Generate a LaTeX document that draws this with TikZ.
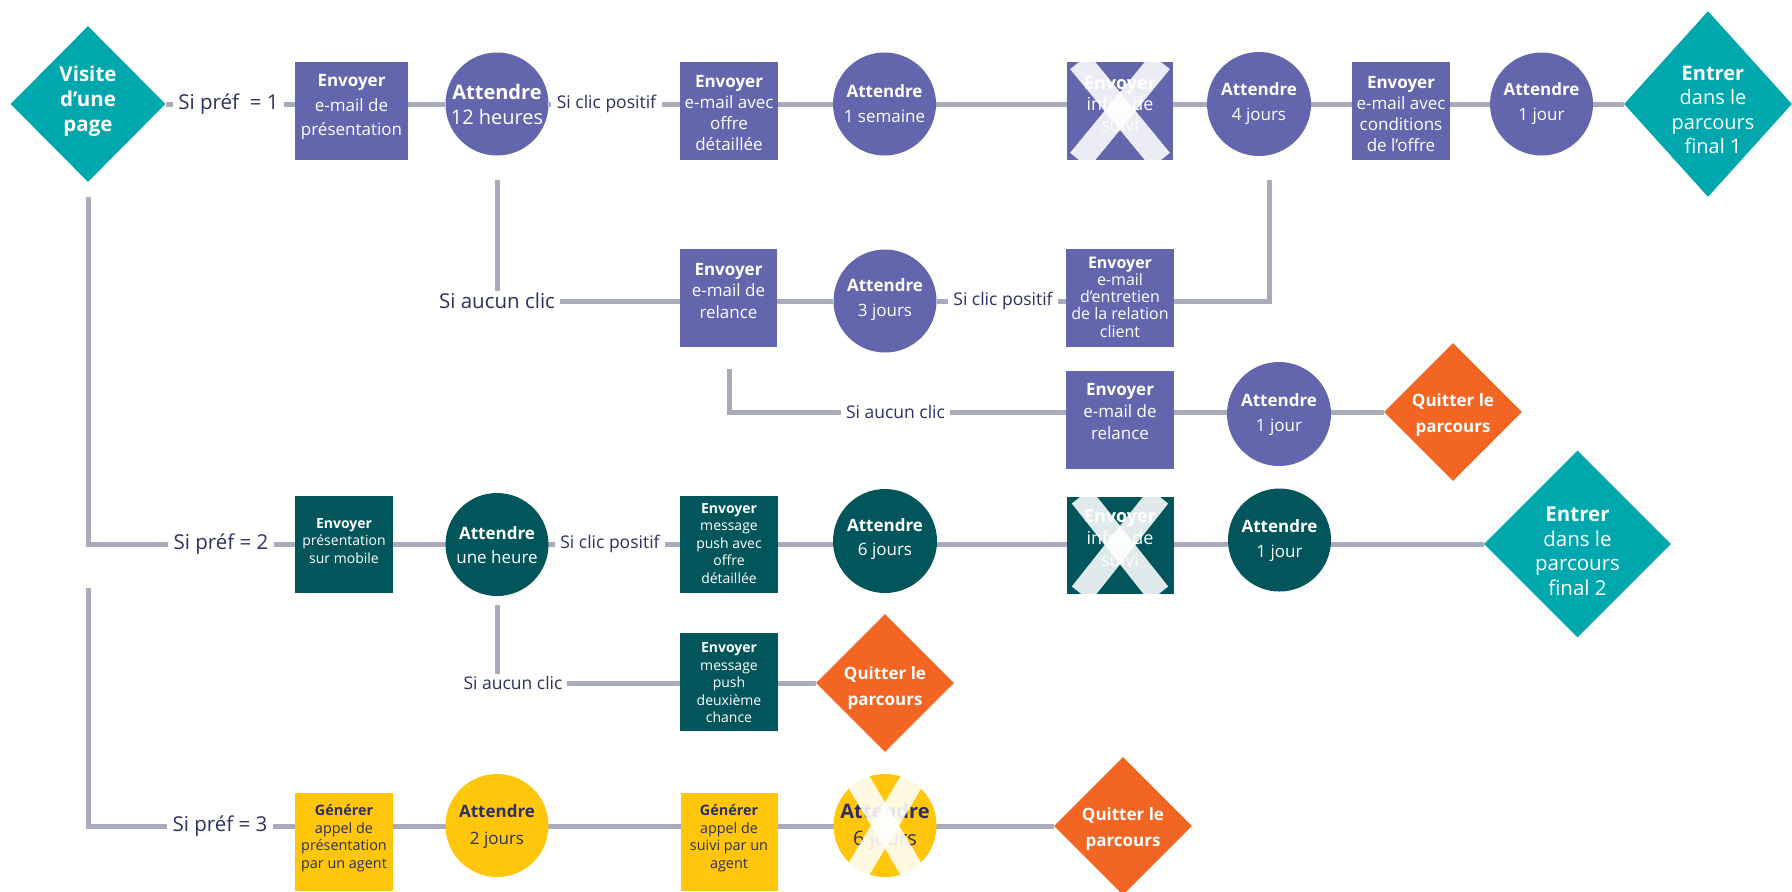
\documentclass[tikz,border=0pt]{standalone}
\usepackage{fontspec}
\setmainfont{Open Sans}
\usetikzlibrary{shapes.geometric,calc}
\definecolor{purp}{RGB}{99,102,173}
\definecolor{dteal}{RGB}{2,85,90}
\definecolor{tealb}{RGB}{0,168,174}
\definecolor{orng}{RGB}{242,101,34}
\definecolor{yell}{RGB}{255,198,11}
\definecolor{lgray}{RGB}{169,171,186}
\definecolor{navy}{RGB}{45,48,96}
\pgfdeclarelayer{background}
\pgfsetlayers{background,main}
\newcommand\fsz[2]{\fontsize{#1}{#2}\selectfont}
% #1 node, #2 inset fraction of the arms
\newcommand\mycross[2]{%
  \begin{scope}
    \clip (#1.west |- #1.north) rectangle (#1.east |- #1.south);
    \draw[xstroke] ($(#1.west |- #1.north)!#2!(#1.east |- #1.north)$) -- ($(#1.east |- #1.south)!#2!(#1.west |- #1.south)$);
    \draw[xstroke] ($(#1.east |- #1.north)!#2!(#1.west |- #1.north)$) -- ($(#1.west |- #1.south)!#2!(#1.east |- #1.south)$);
  \end{scope}}
\begin{document}
\begin{tikzpicture}[x=0.5pt,y=-0.5pt,
  box/.style={rectangle,inner sep=0pt,minimum width=49pt,minimum height=49pt},
  circ/.style={circle,inner sep=0pt,minimum size=51.5pt},
  dia/.style={diamond,inner sep=0pt},
  txt/.style={align=center,inner sep=0pt,text=white},
  ntxt/.style={align=center,inner sep=0pt,text=navy},
  lbl/.style={fill=white,inner xsep=2.5pt,inner ysep=1pt,text=navy},
  biglbl/.style={lbl,font=\fsz{10.25}{12}},
  smllbl/.style={lbl,font=\fsz{8.75}{10}},
  conn/.style={draw=lgray,line width=2.5pt,line join=miter},
  xstroke/.style={draw=white,opacity=0.88,line width=12pt}]
\useasboundingbox (0,0) rectangle (1792,891);
\begin{pgfonlayer}{background}
\fill[white] (0,0) rectangle (1792,891);
\end{pgfonlayer}

% ---------- shapes ----------
\node[dia,fill=tealb,minimum width=77.5pt,minimum height=78pt] (v) at (88,104) {};
\node[box,fill=purp,minimum width=56.5pt] (b1) at (351.5,111) {};
\node[circ,fill=purp] (c1) at (497,104) {};
\node[box,fill=purp] (b2) at (729,111) {};
\node[circ,fill=purp] (c2) at (884.5,104) {};
\node[box,fill=purp,minimum width=53pt] (x1) at (1120,111) {};
\node[circ,fill=purp,minimum size=52pt] (c3) at (1259,104) {};
\node[box,fill=purp] (b3) at (1401,111) {};
\node[circ,fill=purp] (c4) at (1541.5,104) {};
\node[dia,fill=tealb,minimum width=84pt,minimum height=93pt] (e1) at (1708,104) {};

\node[box,fill=purp,minimum width=48.5pt] (b4) at (728.5,298) {};
\node[circ,fill=purp] (c5) at (885,301) {};
\node[box,fill=purp,minimum width=54pt] (b5) at (1120,298) {};
\node[box,fill=purp,minimum width=54pt] (b6) at (1120,420) {};
\node[circ,fill=purp,minimum size=52pt] (c6) at (1279,414) {};
\node[dia,fill=orng,minimum width=69pt,minimum height=69pt] (q1) at (1453,412) {};

\node[box,fill=dteal,minimum height=48.5pt] (b7) at (344,544.5) {};
\node[circ,fill=dteal] (c7) at (497,544.5) {};
\node[box,fill=dteal,minimum height=48.5pt] (b8) at (729,544.5) {};
\node[circ,fill=dteal,minimum size=52pt] (c8) at (885,541) {};
\node[box,fill=dteal,minimum width=53.5pt,minimum height=48.5pt] (x2) at (1120,545) {};
\node[circ,fill=dteal] (c9) at (1279.5,540) {};
\node[dia,fill=tealb,minimum width=93.5pt,minimum height=93.5pt] (e2) at (1577.5,544) {};

\node[box,fill=dteal] (b9) at (729,682) {};
\node[dia,fill=orng,minimum width=69pt,minimum height=69pt] (q2) at (885,683) {};

\node[box,fill=yell] (b10) at (344,842) {};
\node[circ,fill=yell] (c10) at (497,825.5) {};
\node[box,fill=yell,minimum width=48.5pt] (b11) at (729,842) {};
\node[circ,fill=yell] (x3) at (885,825.5) {};
\node[dia,fill=orng,minimum width=69pt,minimum height=69pt] (q3) at (1123,826) {};

% ---------- texts ----------
\node[txt,font=\fsz{10.25}{12.5}\bfseries] (vt) at (88,101) {Visite\\d’une\\page};
\node[txt,font=\fsz{8.5}{12.25}] (b1t) at (351.5,107) {\textbf{Envoyer}\\e-mail de\\présentation};
\node[txt,font=\fsz{10}{12.5}] (c1t) at (497,104) {\textbf{Attendre}\\12 heures};
\node[txt,font=\fsz{8.5}{10.5}] (b2t) at (729,113) {\textbf{Envoyer}\\e-mail avec\\offre\\détaillée};
\node[txt,font=\fsz{8.5}{12.5}] (c2t) at (884.5,104) {\textbf{Attendre}\\1 semaine};
\node[txt,font=\fsz{9}{10.5}] (x1t) at (1120,104) {\textbf{Envoyer}\\infos de\\suivi};
\node[txt,font=\fsz{8.5}{12.5}] (c3t) at (1259,104) {\textbf{Attendre}\\4 jours};
\node[txt,font=\fsz{8.5}{10.5}] (b3t) at (1401,114) {\textbf{Envoyer}\\e-mail avec\\conditions\\de l’offre};
\node[txt,font=\fsz{8.5}{12.5}] (c4t) at (1541.5,104) {\textbf{Attendre}\\1 jour};
\node[txt,font=\fsz{10}{12.25}] (e1t) at (1713,110) {\textbf{Entrer}\\dans le\\parcours\\final 1};

\node[txt,font=\fsz{8.5}{10.85}] (b4t) at (728.5,291) {\textbf{Envoyer}\\e-mail de\\relance};
\node[txt,font=\fsz{8.5}{12.5}] (c5t) at (885,300) {\textbf{Attendre}\\3 jours};
\node[txt,font=\fsz{8}{8.65}] (b5t) at (1120,297) {\textbf{Envoyer}\\e-mail\\d’entretien\\de la relation\\client};
\node[txt,font=\fsz{8.5}{10.85}] (b6t) at (1120,411.5) {\textbf{Envoyer}\\e-mail de\\relance};
\node[txt,font=\fsz{8.5}{12.5}] (c6t) at (1279,414.5) {\textbf{Attendre}\\1 jour};
\node[txt,font=\fsz{8.5}{12.8}\bfseries] (q1t) at (1453,415) {Quitter le\\parcours};

\node[txt,font=\fsz{7}{8.75}] (b7t) at (344,541) {\textbf{Envoyer}\\présentation\\sur mobile};
\node[txt,font=\fsz{8.5}{12}] (c7t) at (497,545) {\textbf{Attendre}\\une heure};
\node[txt,font=\fsz{7}{8.75}] (b8t) at (729,543.5) {\textbf{Envoyer}\\message\\push avec\\offre\\détaillée};
\node[txt,font=\fsz{8.5}{12.35}] (c8t) at (885,539) {\textbf{Attendre}\\6 jours};
\node[txt,font=\fsz{9}{10.85}] (x2t) at (1120,538) {\textbf{Envoyer}\\infos de\\suivi};
\node[txt,font=\fsz{8.5}{12.5}] (c9t) at (1279.5,540.5) {\textbf{Attendre}\\1 jour};
\node[txt,font=\fsz{10.25}{12.25}] (e2t) at (1577.5,551.5) {\textbf{Entrer}\\dans le\\parcours\\final 2};

\node[txt,font=\fsz{7}{8.75}] (b9t) at (729,683) {\textbf{Envoyer}\\message\\push\\deuxième\\chance};
\node[txt,font=\fsz{8.5}{12.8}\bfseries] (q2t) at (885,688) {Quitter le\\parcours};

\node[ntxt,font=\fsz{7.2}{8.75}] (b10t) at (344,838) {\textbf{Générer}\\appel de\\présentation\\par un agent};
\node[ntxt,font=\fsz{8.5}{13.5}] (c10t) at (497,826.5) {\textbf{Attendre}\\2 jours};
\node[ntxt,font=\fsz{7.2}{8.75}] (b11t) at (729,838) {\textbf{Générer}\\appel de\\suivi par un\\agent};
\node[ntxt,font=\fsz{10}{13.5}] (x3t) at (885,826.5) {\textbf{Attendre}\\6 jours};
\node[txt,font=\fsz{8.5}{12.8}\bfseries] (q3t) at (1123,829) {Quitter le\\parcours};

% ---------- labels ----------
\node[biglbl] (lp1) at (228.5,104) {Si préf~~= 1};
\node[smllbl] (lcp1) at (606.5,104) {Si clic positif};
\node[biglbl] (lac1) at (497,301) {Si aucun clic};
\node[smllbl] (lcp2) at (1003,301) {Si clic positif};
\node[smllbl] (lac2) at (895.5,412) {Si aucun clic};
\node[biglbl] (lp2) at (221,544) {Si préf = 2};
\node[smllbl] (lcp3) at (610,544) {Si clic positif};
\node[smllbl] (lac3) at (513,683) {Si aucun clic};
\node[biglbl] (lp3) at (220,826) {Si préf = 3};

% ---------- free ends ----------
\coordinate (c1d) at (497,180);
\coordinate (c3d) at (1269,180);
\coordinate (b4d) at (729,369);
\coordinate (vd1) at (88,197);
\coordinate (c7d) at (497,605);
\coordinate (vd2) at (88,588);

% ---------- connectors ----------
\begin{pgfonlayer}{background}
\draw[conn] (v) -- (lp1) -- (b1 |- lp1) -- (c1) -- (lcp1) -- (b2 |- lcp1) -- (c2)
  -- (x1 |- c2) -- (c3) -- (b3 |- c3) -- (c4) -- (e1);
\draw[conn] (c1d) -- (c1d |- lac1) -- (b4 |- lac1) -- (c5) -- (lcp2) -- (b5 |- c5)
  -- (c3d |- c5) -- (c3d);
\draw[conn] (b4d) -- (b4d |- lac2) -- (lac2) -- (b6 |- lac2) -- (c6 |- lac2) -- (q1);
\draw[conn] (vd1) -- (vd1 |- lp2) -- (lp2) -- (b7 |- lp2) -- (c7 |- lp2) -- (lcp3)
  -- (b8 |- lcp3) -- (c8 |- lcp3) -- (x2 |- lcp3) -- (c9 |- lcp3) -- (e2);
\draw[conn] (c7d) -- (c7d |- lac3) -- (b9 |- lac3) -- (q2);
\draw[conn] (vd2) -- (vd2 |- lp3) -- (lp3) -- (b10 |- lp3) -- (c10 |- lp3)
  -- (b11 |- lp3) -- (x3 |- lp3) -- (q3);
\end{pgfonlayer}

% ---------- crossed-out steps ----------
\mycross{x1}{0.12}
\mycross{x2}{0.14}
\mycross{x3}{0.2}
\end{tikzpicture}
\end{document}
